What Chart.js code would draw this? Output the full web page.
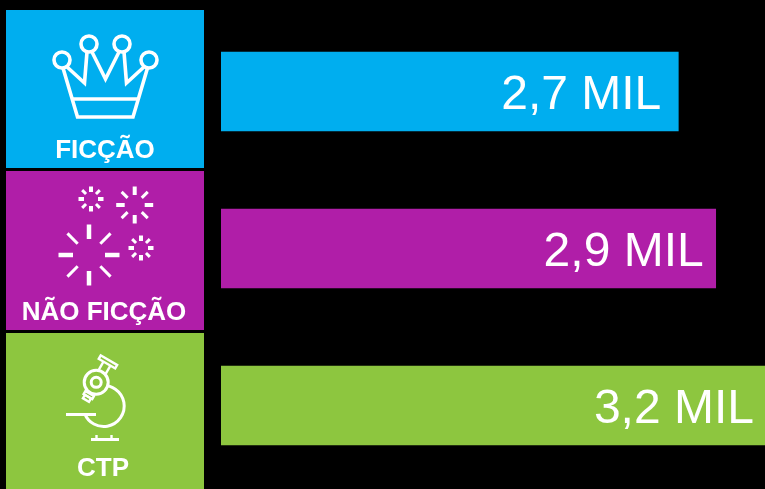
<!DOCTYPE html>
<html>
<head>
<meta charset="utf-8">
<style>
html, body { margin: 0; padding: 0; background: #000; }
#wrap { width: 765px; height: 489px; position: relative; overflow: hidden; }
</style>
<script src="https://cdn.jsdelivr.net/npm/chart.js@4/dist/chart.umd.min.js"></script>
</head>
<body>
<div id="wrap"><canvas id="genreChart"></canvas></div>
<script>
const categories = ['FICÇÃO', 'NÃO FICÇÃO', 'CTP'];
const barValues = [2.69, 2.91, 3.2];
const valueLabels = ['2,7 MIL', '2,9 MIL', '3,2 MIL'];
const barColors = ['#00aeef', '#b01ea8', '#8dc63f'];

const tiles = [
    { top: 10, bottom: 168, labelX: 105, labelY: 158, icon: drawCrown },
    { top: 171, bottom: 330, labelX: 104, labelY: 320, icon: drawSparks },
    { top: 333, bottom: 489, labelX: 103, labelY: 476, icon: drawMicroscope }
];
const labelInsets = [17, 12, 11];

function line(ctx, x1, y1, x2, y2) {
    ctx.beginPath();
    ctx.moveTo(x1, y1);
    ctx.lineTo(x2, y2);
    ctx.stroke();
}

function circle(ctx, x, y, r) {
    ctx.beginPath();
    ctx.arc(x, y, r, 0, Math.PI * 2);
    ctx.stroke();
}

function drawCrown(ctx) {
    ctx.lineWidth = 3.6;
    circle(ctx, 62, 60, 8);
    circle(ctx, 89, 44, 8);
    circle(ctx, 122, 44, 8);
    circle(ctx, 149, 60, 8);
    ctx.lineJoin = 'miter';
    ctx.beginPath();
    ctx.moveTo(63, 68);
    ctx.lineTo(77.5, 117);
    ctx.lineTo(133, 117);
    ctx.lineTo(147.5, 68);
    ctx.stroke();
    ctx.beginPath();
    ctx.moveTo(66, 66);
    ctx.lineTo(84.5, 83);
    ctx.lineTo(87, 52);
    ctx.stroke();
    ctx.beginPath();
    ctx.moveTo(92, 52);
    ctx.lineTo(105.5, 79);
    ctx.lineTo(119, 52);
    ctx.stroke();
    ctx.beginPath();
    ctx.moveTo(124, 52);
    ctx.lineTo(126.5, 83);
    ctx.lineTo(145, 66);
    ctx.stroke();
    line(ctx, 73, 99, 138, 99);
}

function spark(ctx, cx, cy, inner, outer, straight, diagonal) {
    for (let i = 0; i < 8; i++) {
        const a = i * Math.PI / 4;
        ctx.lineWidth = i % 2 ? diagonal : straight;
        line(ctx, cx + Math.cos(a) * inner, cy + Math.sin(a) * inner,
            cx + Math.cos(a) * outer, cy + Math.sin(a) * outer);
    }
}

function drawSparks(ctx) {
    spark(ctx, 91, 199, 7, 12.5, 4, 3);
    spark(ctx, 134.7, 205, 10, 18.5, 4, 3);
    spark(ctx, 89, 255, 16, 30.5, 4.5, 3);
    spark(ctx, 141, 248, 7, 12.5, 4, 3);
}

function drawMicroscope(ctx, color) {
    ctx.lineWidth = 3;
    ctx.beginPath();
    ctx.arc(103.7, 406, 20.5, -1.75, 2.75);
    ctx.stroke();
    ctx.beginPath();
    ctx.arc(96.2, 382.3, 12, 0, Math.PI * 2);
    ctx.fillStyle = color;
    ctx.fill();
    ctx.stroke();
    circle(ctx, 96.2, 382.3, 5);
    line(ctx, 66, 414.5, 96, 414.5);
    line(ctx, 91, 439.5, 119, 439.5);
    ctx.lineWidth = 2.4;
    line(ctx, 96.5, 435, 96.5, 439);
    line(ctx, 111.5, 435, 111.5, 439);

    ctx.save();
    ctx.translate(96.2, 382.3);
    ctx.rotate(30 * Math.PI / 180);
    ctx.lineWidth = 2.4;
    ctx.strokeRect(-9.5, -25.5, 19, 4);
    line(ctx, -4, -21.5, -4, -12);
    line(ctx, 4, -21.5, 4, -12);
    ctx.strokeRect(-5, 13, 10, 3.5);
    ctx.strokeRect(-3.5, 16.5, 7, 4);
    ctx.restore();
}

const tilePlugin = {
    id: 'tiles',
    beforeDatasetsDraw(chart) {
        const ctx = chart.ctx;
        ctx.save();
        tiles.forEach((tile, i) => {
            ctx.fillStyle = barColors[i];
            ctx.fillRect(6, tile.top, 198, tile.bottom - tile.top);
            ctx.strokeStyle = '#fff';
            ctx.lineCap = 'butt';
            tile.icon(ctx, barColors[i]);
            ctx.fillStyle = '#fff';
            ctx.font = 'bold 26px "Liberation Sans", Arial, sans-serif';
            ctx.textAlign = 'center';
            ctx.textBaseline = 'alphabetic';
            ctx.fillText(categories[i], tile.labelX, tile.labelY);
        });
        ctx.restore();
    }
};

const valueLabelPlugin = {
    id: 'valueLabels',
    afterDatasetsDraw(chart) {
        const ctx = chart.ctx;
        const bars = chart.getDatasetMeta(0).data;
        ctx.save();
        ctx.fillStyle = '#fff';
        ctx.font = '48px "Liberation Sans", Arial, sans-serif';
        ctx.textAlign = 'right';
        ctx.textBaseline = 'alphabetic';
        bars.forEach((bar, i) => {
            const right = Math.min(bar.x, chart.chartArea.right);
            ctx.fillText(valueLabels[i], right - labelInsets[i], bar.y + 17);
        });
        ctx.restore();
    }
};

new Chart(document.getElementById('genreChart').getContext('2d'), {
    type: 'bar',
    data: {
        labels: categories,
        datasets: [{
            data: barValues,
            backgroundColor: barColors,
            borderWidth: 0,
            barThickness: 79
        }]
    },
    options: {
        indexAxis: 'y',
        responsive: true,
        maintainAspectRatio: false,
        animation: false,
        events: [],
        layout: {
            padding: { left: 221, right: 0, top: 13, bottom: 5 }
        },
        plugins: {
            legend: { display: false },
            tooltip: { enabled: false }
        },
        scales: {
            x: { display: false, min: 0, max: 3.2 },
            y: { display: false }
        }
    },
    plugins: [tilePlugin, valueLabelPlugin]
});
</script>
</body>
</html>
